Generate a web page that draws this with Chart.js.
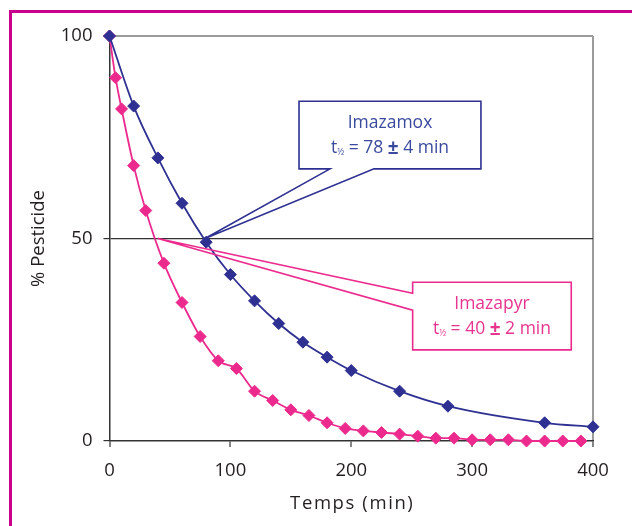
<!DOCTYPE html>
<html>
<head>
<meta charset="utf-8">
<script src="https://cdn.jsdelivr.net/npm/chart.js@4.4.1/dist/chart.umd.min.js"></script>
<style>
  body { margin: 0; background: #fff; }
  #wrap { position: relative; width: 632px; height: 526px; overflow: hidden; }
  #frame { position: absolute; left: 9px; top: 10px; width: 700px; height: 600px;
           border-top: 3px solid #c8008c; border-left: 3px solid #c8008c; }
  canvas { position: absolute; left: 0; top: 0; }
</style>
</head>
<body>
<div id="wrap">
  <div id="frame"></div>
  <canvas id="myChart" width="632" height="526"></canvas>
</div>
<script>
// values
var imazamoxTimes = [0, 20, 40, 60, 80, 100, 120, 140, 160, 180, 200, 240, 280, 360, 400];
var imazamoxValues = [100, 82.7, 69.9, 58.7, 49.1, 41.1, 34.6, 29.0, 24.4, 20.7, 17.4, 12.3, 8.6, 4.5, 3.5];

var imazapyrTimes = [0, 5, 10, 20, 30, 45, 60, 75, 90, 105, 120, 135, 150, 165, 180, 195,
                     210, 225, 240, 255, 270, 285, 300, 315, 330, 345, 360, 375, 390];
var imazapyrValues = [100, 89.7, 82.0, 68.0, 56.9, 43.9, 34.2, 25.8, 19.8, 17.9, 12.3, 10.0, 7.7, 6.3, 4.5, 3.1,
                      2.5, 2.1, 1.7, 1.2, 0.7, 0.7, 0.3, 0.3, 0.3, 0, 0, 0, 0];

var xTicks = [0, 100, 200, 300, 400];
var yTicks = [0, 50, 100];
var xTitle = 'Temps (min)';
var yTitle = '% Pesticide';

var BLUE = '#2e3192';
var PINK = '#ec2a8e';
var INK = '#231f20';
var FONT = '"Open Sans", sans-serif';

// callout boxes, in data units (x = min, y = %)
var callouts = [
  {
    name: 'Imazamox', value: '78', err: '4', color: BLUE, textColor: '#3a4a9e',
    box: [156.8, 83.9, 307.3, 67.2],
    outline: [[156.8, 83.9], [307.3, 83.9], [307.3, 67.2], [218.8, 67.2], [79, 50], [182.4, 67.2], [156.8, 67.2]]
  },
  {
    name: 'Imazapyr', value: '40', err: '2', color: PINK, textColor: '#e8348f',
    box: [250.8, 39.2, 382.0, 22.5],
    outline: [[250.8, 39.2], [382.0, 39.2], [382.0, 22.5], [250.8, 22.5], [250.8, 32.3], [40, 50], [250.8, 36.5]]
  }
];

function toPoints(xs, ys) {
  return xs.map(function (x, i) { return { x: x, y: ys[i] }; });
}

// draws a row of [text, font, dy] pieces centred on cx
function drawPieces(ctx, pieces, cx, y) {
  var total = 0;
  pieces.forEach(function (p) { ctx.font = p[1]; p.w = ctx.measureText(p[0]).width; total += p.w; });
  var x = cx - total / 2;
  pieces.forEach(function (p) {
    ctx.font = p[1];
    ctx.fillText(p[0], x, y + (p[2] || 0));
    x += p.w;
  });
}

var calloutPlugin = {
  id: 'callouts',
  afterDatasetsDraw: function (chart) {
    var ctx = chart.ctx;
    var sx = chart.scales.x, sy = chart.scales.y;
    callouts.forEach(function (c) {
      ctx.save();
      ctx.strokeStyle = c.color;
      ctx.lineWidth = 1.6;
      ctx.beginPath();
      c.outline.forEach(function (p, i) {
        var px = sx.getPixelForValue(p[0]), py = sy.getPixelForValue(p[1]);
        if (i === 0) ctx.moveTo(px, py); else ctx.lineTo(px, py);
      });
      ctx.closePath();
      ctx.stroke();

      var cx = (sx.getPixelForValue(c.box[0]) + sx.getPixelForValue(c.box[2])) / 2;
      var top = sy.getPixelForValue(c.box[1]);
      ctx.fillStyle = c.textColor;
      ctx.textBaseline = 'middle';
      ctx.textAlign = 'center';
      ctx.font = '17.5px ' + FONT;
      ctx.fillText(c.name, cx, top + 22);

      ctx.textAlign = 'left';
      var big = '17.5px ' + FONT, small = '9px ' + FONT, bold = 'bold 19px ' + FONT;
      drawPieces(ctx, [
        ['t', big], ['\u00bd', small, 4], [' = ' + c.value + ' ', big],
        ['\u00b1', bold], [' ' + c.err + ' min', big]
      ], cx, top + 47);
      ctx.restore();
    });
  },
  afterDraw: function (chart) {
    // x title, drawn here because it is letter-spaced
    var ctx = chart.ctx, a = chart.chartArea;
    ctx.save();
    ctx.fillStyle = INK;
    ctx.font = '18.5px ' + FONT;
    ctx.letterSpacing = '1.6px';
    ctx.textAlign = 'center';
    ctx.textBaseline = 'middle';
    ctx.fillText(xTitle, (a.left + a.right) / 2 + 1, 504);
    ctx.restore();
  }
};

var ctx = document.getElementById('myChart').getContext('2d');
var myChart = new Chart(ctx, {
  type: 'line',
  data: {
    datasets: [{
      label: 'Imazamox',
      data: toPoints(imazamoxTimes, imazamoxValues),
      borderColor: BLUE,
      backgroundColor: BLUE,
      borderWidth: 1.8,
      pointStyle: 'rectRot',
      pointRadius: 6,
      pointBorderWidth: 1,
      cubicInterpolationMode: 'monotone',
      clip: false
    }, {
      label: 'Imazapyr',
      data: toPoints(imazapyrTimes, imazapyrValues),
      borderColor: PINK,
      backgroundColor: PINK,
      borderWidth: 1.8,
      pointStyle: 'rectRot',
      pointRadius: 6,
      pointBorderWidth: 1,
      cubicInterpolationMode: 'monotone',
      clip: false
    }]
  },
  options: {
    responsive: false,
    animation: false,
    layout: { padding: { left: 24, right: 39, top: 36, bottom: 7 } },
    plugins: { legend: { display: false }, tooltip: { enabled: false } },
    scales: {
      x: {
        type: 'linear', min: 0, max: 400,
        afterBuildTicks: function (s) { s.ticks = xTicks.map(function (v) { return { value: v }; }); },
        afterFit: function (s) { s.height = 78; },
        border: { color: '#333', width: 1.5 },
        grid: {
          color: function (c) { return c.tick && c.tick.value === 400 ? '#9b9b9b' : 'rgba(0,0,0,0)'; },
          lineWidth: 2, tickColor: '#333', tickLength: 6, tickWidth: 1.2
        },
        ticks: { color: INK, font: { family: FONT, size: 18.5 }, padding: 13, maxRotation: 0 },
        title: { display: false, text: xTitle }
      },
      y: {
        type: 'linear', min: 0, max: 100,
        afterBuildTicks: function (s) { s.ticks = yTicks.map(function (v) { return { value: v }; }); },
        afterFit: function (s) { s.width = 85.5; },
        border: { color: '#333', width: 1.5 },
        grid: {
          color: function (c) {
            if (!c.tick) return 'rgba(0,0,0,0)';
            if (c.tick.value === 50) return '#333';
            if (c.tick.value === 100) return '#9b9b9b';
            return 'rgba(0,0,0,0)';
          },
          lineWidth: function (c) { return c.tick && c.tick.value === 100 ? 2 : 1.2; },
          tickColor: '#333', tickLength: 6, tickWidth: 1.2
        },
        ticks: { color: INK, font: { family: FONT, size: 18.5 }, padding: 11 },
        title: { display: true, text: yTitle, color: INK, font: { family: FONT, size: 18.5 } }
      }
    }
  },
  plugins: [calloutPlugin]
});
</script>
</body>
</html>
